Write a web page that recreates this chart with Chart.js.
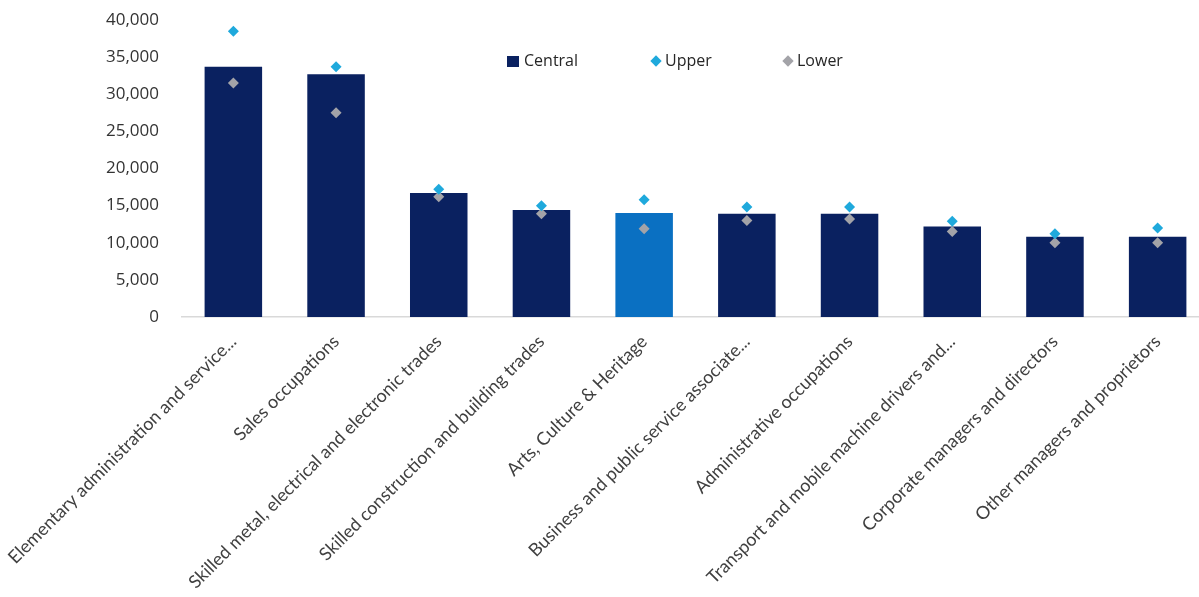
<!DOCTYPE html>
<html>
<head>
<meta charset="utf-8">
<script src="https://cdn.jsdelivr.net/npm/chart.js@4.4.1/dist/chart.umd.min.js"></script>
<style>
  html, body { margin: 0; padding: 0; background: #fff; overflow: hidden; }
  #wrap { position: relative; width: 1215px; height: 597px; }
  .legend { position: absolute; top: 50px; font-family: "Open Sans", sans-serif; font-size: 16px; color: #262626; line-height: 20px; }
  .legend span.key { display: inline-block; vertical-align: middle; margin-right: 5px; }
  .sq { width: 12px; height: 11px; background: #0a2160; }
  .dm { width: 8px; height: 8px; transform: rotate(45deg); margin-top: -2px; }
</style>
</head>
<body>
<div id="wrap">
  <canvas id="chart"></canvas>
  <div class="legend" style="left:507px"><span class="key sq"></span>Central</div>
  <div class="legend" style="left:652px"><span class="key dm" style="background:#1fa9dc"></span>Upper</div>
  <div class="legend" style="left:784px"><span class="key dm" style="background:#a3a3a8"></span>Lower</div>
</div>
<script>
// Occupation groups (labels as shown, already truncated in the source chart)
const categories = [
    'Elementary administration and service...',
    'Sales occupations',
    'Skilled metal, electrical and electronic trades',
    'Skilled construction and building trades',
    'Arts, Culture & Heritage',
    'Business and public service associate...',
    'Administrative occupations',
    'Transport and mobile machine drivers and...',
    'Corporate managers and directors',
    'Other managers and proprietors'
];

const centralValues = [33700, 32700, 16700, 14400, 14000, 13900, 13900, 12200, 10800, 10800];
const upperValues   = [38500, 33700, 17200, 15000, 15800, 14800, 14800, 12900, 11200, 12000];
const lowerValues   = [31500, 27500, 16200, 13900, 11900, 13000, 13200, 11500, 10000, 10000];

const yTicks = [0, 5000, 10000, 15000, 20000, 25000, 30000, 35000, 40000];

const navy = '#0a2160';
const highlight = '#0a70c2';
const barColors = categories.map(c => c.startsWith('Arts') ? highlight : navy);

document.addEventListener('DOMContentLoaded', function() {
    const ctx = document.getElementById('chart').getContext('2d');

    new Chart(ctx, {
        type: 'bar',
        data: {
            labels: categories,
            datasets: [{
                label: 'Central',
                data: centralValues,
                backgroundColor: barColors,
                borderWidth: 0,
                barPercentage: 0.56,
                categoryPercentage: 1,
                order: 2
            }, {
                type: 'line',
                label: 'Upper',
                data: upperValues,
                showLine: false,
                pointStyle: 'rectRot',
                pointRadius: 5.5,
                pointBackgroundColor: '#1fa9dc',
                pointBorderWidth: 0,
                order: 1
            }, {
                type: 'line',
                label: 'Lower',
                data: lowerValues,
                showLine: false,
                pointStyle: 'rectRot',
                pointRadius: 5.5,
                pointBackgroundColor: '#a3a3a8',
                pointBorderWidth: 0,
                order: 1
            }]
        },
        options: {
            responsive: true,
            maintainAspectRatio: false,
            animation: false,
            layout: { padding: { top: 20, right: 6, left: 0, bottom: 0 } },
            plugins: {
                legend: { display: false },
                tooltip: { enabled: false }
            },
            scales: {
                x: {
                    grid: { display: false },
                    border: { display: true, color: '#d9d9d9', width: 1.5 },
                    ticks: {
                        autoSkip: false,
                        maxRotation: 45,
                        minRotation: 45,
                        padding: 6,
                        color: '#404040',
                        font: { family: 'Lato', size: 18 }
                    },
                    afterFit: function(scale) {
                        scale.height = 280;
                        scale.paddingLeft = 0;
                        scale.paddingRight = 0;
                    }
                },
                y: {
                    min: 0,
                    max: 40000,
                    afterBuildTicks: function(scale) {
                        scale.ticks = yTicks.map(v => ({ value: v }));
                    },
                    grid: { display: false },
                    border: { display: false },
                    ticks: {
                        color: '#333333',
                        padding: 15,
                        font: { family: 'Open Sans', size: 17 },
                        callback: v => v.toLocaleString('en-US')
                    },
                    afterFit: function(scale) {
                        scale.width = 182;
                        scale.paddingTop = 0;
                        scale.paddingBottom = 0;
                    }
                }
            }
        }
    });
});
</script>
</body>
</html>
